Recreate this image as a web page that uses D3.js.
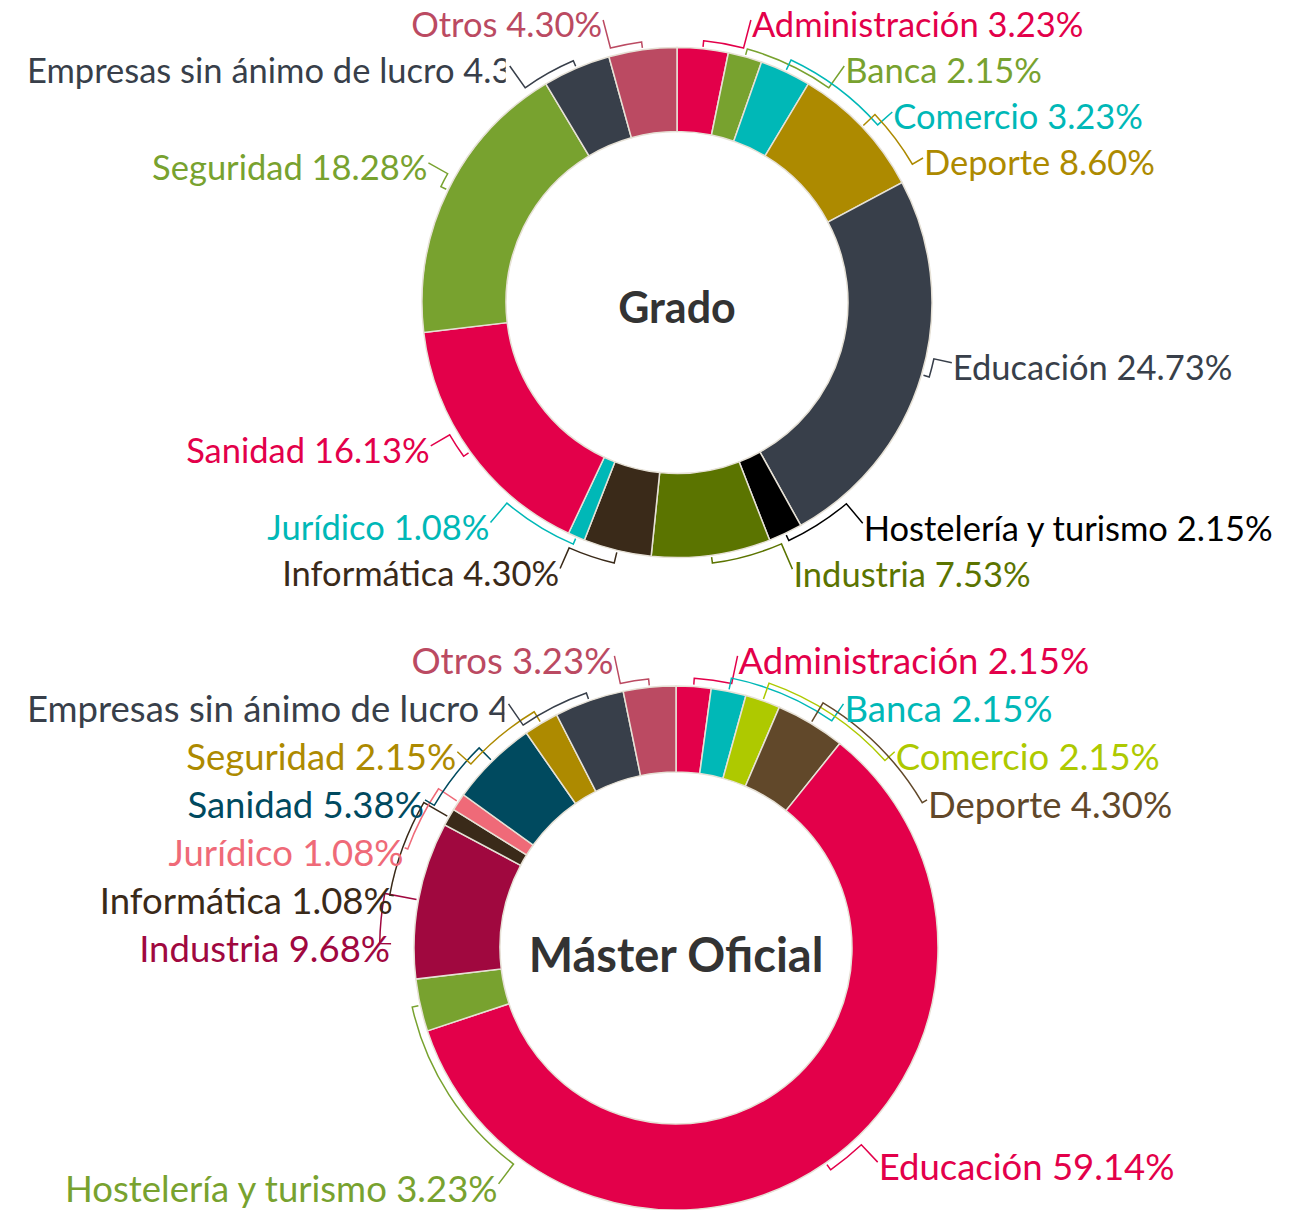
<!DOCTYPE html>
<html>
<head>
<meta charset="utf-8">
<script src="https://cdn.jsdelivr.net/npm/d3@7"></script>
<style>
  body { margin: 0; background: #fff; }
  text { font-family: Lato, "Noto Sans", sans-serif; }
</style>
</head>
<body>
<script>
// Categories (same order in both rings, clockwise from 12 o'clock)
const categories = [
  'Administración', 'Banca', 'Comercio', 'Deporte', 'Educación',
  'Hostelería y turismo', 'Industria', 'Informática', 'Jurídico',
  'Sanidad', 'Seguridad', 'Empresas sin ánimo de lucro', 'Otros'
];

// Percentages
const gradoValues = [3.23, 2.15, 3.23, 8.60, 24.73, 2.15, 7.53, 4.30, 1.08, 16.13, 18.28, 4.30, 4.30];
const masterValues = [2.15, 2.15, 2.15, 4.30, 59.14, 3.23, 9.68, 1.08, 1.08, 5.38, 2.15, 4.30, 3.23];

const gradoColors = ['#e3004a', '#78a22f', '#00b8b7', '#ad8a00', '#383f4a', '#000000', '#5b7400',
  '#3a2a19', '#00b8b7', '#e3004a', '#78a22f', '#383f4a', '#bb4a62'];
const masterColors = ['#e3004a', '#00b8b7', '#aec900', '#61482a', '#e3004a', '#78a22f', '#a0083f',
  '#3a2a19', '#ef6a78', '#004a5f', '#ad8a00', '#383f4a', '#bb4a62'];

const w = 1307;
const h = 1210;
const margin = 27;
const fmt = d3.format('.2f');

const svg = d3.select('body')
  .append('svg')
  .attr('width', w)
  .attr('height', h);

const charts = [
  { id: 'grado', title: 'Grado', values: gradoValues, colors: gradoColors,
    cx: 677, cy: 302.5, R: 255, ri: 171, font: 34.5, lineH: 46, titleSize: 43, titleDy: 4,
    topPad: 22.5, labelPad: 25, s: 1 },
  { id: 'master', title: 'Máster Oficial', values: masterValues, colors: masterColors,
    cx: 676, cy: 948, R: 262, ri: 176, font: 36.5, lineH: 48, titleSize: 47, titleDy: 6,
    topPad: 25, labelPad: 23, s: 1.04 }
];

// Labels that overlap are merged into groups centred on their natural positions
function relax(ls, step, top) {
  const groups = ls.map(l => ({ items: [l], sum: l.y0 }));
  const place = g => {
    g.start = Math.max(top, g.sum / g.items.length - (g.items.length - 1) * step / 2);
  };
  groups.forEach(place);
  let merged = true;
  while (merged) {
    merged = false;
    for (let i = 1; i < groups.length; i++) {
      const p = groups[i - 1];
      const q = groups[i];
      if (p.start + p.items.length * step > q.start) {
        p.items = p.items.concat(q.items);
        p.sum += q.sum;
        place(p);
        groups.splice(i, 1);
        merged = true;
        break;
      }
    }
  }
  groups.forEach(g => g.items.forEach((l, k) => { l.y = g.start + k * step; }));
}

function drawDonut(cfg) {
  const { cx, cy, R, s } = cfg;
  const polar = (a, r) => [cx + r * Math.sin(a), cy - r * Math.cos(a)];

  const data = categories.map((c, i) => ({ name: c, value: cfg.values[i], color: cfg.colors[i] }));
  const arcs = d3.pie().sort(null).value(d => d.value)(data);
  const arc = d3.arc().innerRadius(cfg.ri).outerRadius(R);

  const g = svg.append('g').attr('id', cfg.id);

  g.append('g')
    .attr('transform', 'translate(' + cx + ',' + cy + ')')
    .selectAll('path')
    .data(arcs)
    .join('path')
    .attr('d', arc)
    .attr('fill', d => d.data.color)
    .attr('stroke', '#e6e1d6')
    .attr('stroke-width', 1.5);

  g.append('text')
    .attr('x', cx)
    .attr('y', cy + cfg.titleDy)
    .attr('text-anchor', 'middle')
    .attr('dominant-baseline', 'central')
    .style('font-size', cfg.titleSize + 'px')
    .style('font-weight', 700)
    .attr('fill', '#333333')
    .text(cfg.title);

  // Label layout: each text box touches a circle just outside the ring
  const Rt = R + cfg.labelPad * s;
  const boxUp = 17 * s;
  const boxDown = 7.7 * s;
  const gap = 1;
  const fitMargin = 65;
  const edge = yc => {
    const lo = yc - cy - boxUp;
    const hi = yc - cy + boxDown;
    const yn = lo > 0 ? lo : (hi < 0 ? hi : 0);
    return Math.sqrt(Math.max(Rt * Rt - yn * yn, 0));
  };

  const labels = arcs.map(a => {
    const theta = (a.startAngle + a.endAngle) / 2;
    return {
      theta,
      side: theta < Math.PI ? 1 : -1,
      text: a.data.name + ' ' + fmt(a.data.value) + '%',
      color: a.data.color
    };
  });

  const meas = g.append('text').style('font-size', cfg.font + 'px');
  labels.forEach(l => {
    meas.text(l.text);
    l.w = meas.node().getComputedTextLength();
  });
  meas.remove();

  labels.forEach(l => {
    l.y0 = cy - (R + 21 * s) * Math.cos(l.theta) - 13 * s;
    const room = (l.side > 0 ? w - margin - cx : cx - fitMargin) - l.w;
    // lower labels that do not fit beside the ring move down until they do
    if (l.y0 > cy && edge(l.y0) > room) {
      const need = Math.sqrt(Rt * Rt - Math.max(room, 0) ** 2) + boxUp;
      if (l.y0 - cy < need) l.y0 = cy + need;
    }
  });

  const top = cy - (R + cfg.topPad);
  [1, -1].forEach(side => {
    const ls = labels.filter(l => l.side === side).sort((a, b) => a.y0 - b.y0);
    relax(ls, cfg.lineH, top);
  });

  labels.forEach(l => {
    l.x = cx + l.side * edge(l.y);
    l.D = [l.x - l.side * gap, l.y - 5 * s];
    let phi = Math.atan2(l.D[0] - cx, cy - l.D[1]);
    if (phi < 0) phi += 2 * Math.PI;
    l.phi = phi;
  });

  // stack leader arcs that run alongside each other
  [1, -1].forEach(side => {
    const ls = labels.filter(l => l.side === side)
      .sort((a, b) => side > 0 ? a.theta - b.theta : b.theta - a.theta);
    let prev = null;
    ls.forEach(l => {
      const lo = Math.min(l.theta, l.phi);
      const hi = Math.max(l.theta, l.phi);
      if (prev && lo < prev.hi && hi > prev.lo) l.level = prev.level + 1;
      else l.level = 0;
      prev = { lo, hi, level: l.level };
    });
  });

  const leaders = g.append('g').attr('fill', 'none').attr('stroke-width', 1.5);
  labels.forEach(l => {
    const rArc = R + (8 + l.level * 5) * s;
    const A = polar(l.theta, R + 2);
    const B = polar(l.theta, rArc);
    const C = polar(l.phi, rArc);
    let p = 'M' + A + 'L' + B;
    if (Math.abs(l.phi - l.theta) > 0.002) {
      const large = Math.abs(l.phi - l.theta) > Math.PI ? 1 : 0;
      const sweep = l.phi > l.theta ? 1 : 0;
      p += 'A' + rArc + ',' + rArc + ' 0 ' + large + ' ' + sweep + ' ' + C;
    }
    p += 'L' + l.D;
    leaders.append('path').attr('d', p).attr('stroke', l.color);
  });

  const texts = g.append('g');
  labels.forEach((l, i) => {
    const t = texts.append('text')
      .attr('y', l.y + 0.36 * cfg.font)
      .style('font-size', cfg.font + 'px')
      .attr('fill', l.color)
      .text(l.text);
    const fits = l.side > 0 ? l.x + l.w <= w - margin + 5 : l.x - l.w >= margin - 5;
    if (fits) {
      t.attr('x', l.x).attr('text-anchor', l.side > 0 ? 'start' : 'end');
    } else {
      // too long: start at the margin and cut at the leader
      const clipId = cfg.id + '-clip-' + i;
      const clip = g.append('clipPath').attr('id', clipId).append('rect');
      if (l.side < 0) {
        clip.attr('x', 0).attr('y', l.y - cfg.font).attr('width', l.x - 3).attr('height', cfg.font * 2);
        t.attr('x', margin).attr('text-anchor', 'start');
      } else {
        clip.attr('x', l.x + 3).attr('y', l.y - cfg.font).attr('width', w).attr('height', cfg.font * 2);
        t.attr('x', w - margin).attr('text-anchor', 'end');
      }
      t.attr('clip-path', 'url(#' + clipId + ')');
    }
  });
}

charts.forEach(drawDonut);
</script>
</body>
</html>
